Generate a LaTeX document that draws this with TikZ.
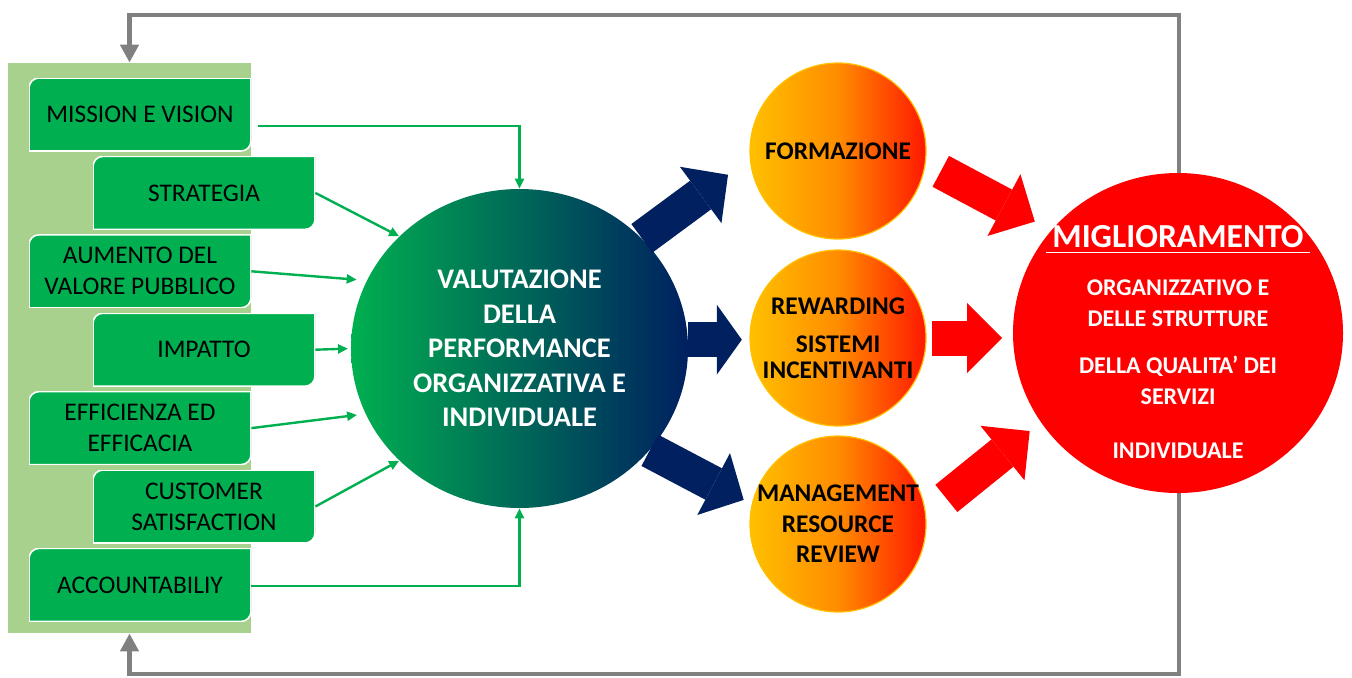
\documentclass[tikz,border=0pt]{standalone}
\usepackage{fontspec}
\setmainfont{Carlito}
\usetikzlibrary{arrows.meta,positioning,shapes.geometric,calc}
\definecolor{PanelGreen}{RGB}{169,209,142}
\definecolor{BoxGreen}{RGB}{0,176,80}
\definecolor{EvalNavy}{RGB}{0,32,96}
\definecolor{GoalRed}{RGB}{255,0,0}
\definecolor{OrangeA}{RGB}{255,192,0}
\definecolor{OrangeB}{RGB}{255,140,0}
\definecolor{OrangeC}{RGB}{255,24,0}
\definecolor{LoopGray}{RGB}{128,128,128}
\newcommand{\migline}[1]{\setbox0\hbox{#1}\rlap{\kern-3pt\rule[-3pt]{\dimexpr\wd0+6pt\relax}{0.8pt}}\box0}

\begin{document}
\begin{tikzpicture}[
  x=0.5pt, y=-0.5pt,
  panel/.style={fill=PanelGreen, minimum width=121.5pt, minimum height=285pt, inner sep=0pt},
  item/.style={
    minimum width=111pt, minimum height=36.5pt, inner sep=0pt,
    align=center, font=\fontsize{12.7}{15.5}\selectfont,
    path picture={
      \filldraw[fill=BoxGreen, draw=white, line width=0.8pt]
        (path picture bounding box.south west)
        -- ([yshift=-5pt]path picture bounding box.north west)
        arc[start angle=180, end angle=90, radius=5pt]
        -- (path picture bounding box.north east)
        -- ([yshift=5pt]path picture bounding box.south east)
        arc[start angle=0, end angle=-90, radius=5pt]
        -- cycle;
    }
  },
  evalnode/.style={
    ellipse, minimum width=168.5pt, minimum height=159.5pt, inner sep=0pt,
    left color=BoxGreen, right color=EvalNavy, text=white, align=center,
    font=\bfseries\fontsize{14.2}{17.3}\selectfont
  },
  lever/.style={
    circle, minimum size=88pt, inner sep=-3pt, draw=OrangeA, line width=0.6pt,
    left color=OrangeA, right color=OrangeC, middle color=OrangeB,
    align=center, font=\bfseries\fontsize{12.7}{12.8}\selectfont
  },
  goal/.style={ellipse, minimum width=165pt, minimum height=160pt, inner sep=0pt, fill=GoalRed},
  feed/.style={draw=LoopGray, line width=2.2pt,
    {Triangle[length=9pt,width=9pt]}-{Triangle[length=9pt,width=9pt]}},
  inflow/.style={draw=BoxGreen, line width=1.2pt, -{Triangle[length=5pt,width=4.5pt]}},
  bignavy/.style={draw=EvalNavy, line width=17.75pt,
    -{Triangle[length=17pt,width=35pt,line width=0pt]}},
  bigred/.style={draw=GoalRed, line width=17.5pt,
    -{Triangle[length=17.5pt,width=35pt,line width=0pt]}}
]
\useasboundingbox (0,0) rectangle (1352,677);

% left column
\node[panel] (panel) at (129.5,348) {};
\coordinate (fbtop) at (1179,15);
\coordinate (fbbot) at (1179,674);
\draw[feed] (panel.south) |- (fbbot) -- (fbtop) -| (panel.north);

\node[item] (mission) at (140,114.5) {MISSION E VISION};
\node[item, below=2.3pt of mission, xshift=32pt] (strat) {STRATEGIA};
\node[item, below=2.3pt of strat, xshift=-32pt] (aumento) {AUMENTO DEL\\VALORE PUBBLICO};
\node[item, below=2.3pt of aumento, xshift=32pt] (impatto) {IMPATTO};
\node[item, below=2.3pt of impatto, xshift=-32pt] (effic) {EFFICIENZA ED\\EFFICACIA};
\node[item, below=2.3pt of effic, xshift=32pt] (custom) {CUSTOMER\\SATISFACTION};
\node[item, below=2.3pt of custom, xshift=-32pt] (accnt) {ACCOUNTABILIY};

% circles
\node[evalnode] (valut) at (519.5,348.5)
  {VALUTAZIONE\\DELLA\\PERFORMANCE\\ORGANIZZATIVA E\\INDIVIDUALE};
\node[lever] (formaz) at (838,151) {FORMAZIONE};
\node[lever] (reward) at (838,338) {REWARDING\\[6.5pt]SISTEMI\\INCENTIVANTI};
\node[lever] (manag) at (838,524) {MANAGEMENT\\[2.5pt]RESOURCE\\[2.5pt]REVIEW};
\node[goal] (migl) at (1178,333) {};
\node[text=white, align=center, font=\bfseries\fontsize{12}{15.3}\selectfont] (migltext) at (1178,342)
  {\fontsize{16.8}{20}\selectfont\bfseries\migline{\bfseries MIGLIORAMENTO}\\[8.9pt]
   ORGANIZZATIVO E\\DELLE STRUTTURE\\[8.4pt]
   DELLA QUALITA’ DEI\\SERVIZI\\[11.7pt]INDIVIDUALE};

% inputs
\draw[inflow] ($(mission.east)+(7,11.5)$) -| (valut.north);
\draw[inflow] (strat.east) -- (valut.137);
\draw[inflow, shorten >=5pt] (aumento.east) -- (valut.156);
\draw[inflow, shorten >=1.3pt] (impatto.east) -- (valut.west);
\draw[inflow, shorten >=4.2pt] (effic.east) -- (valut.203);
\draw[inflow] (custom.east) -- (valut.223);
\draw[inflow] ($(accnt.east)+(0,1)$) -| (valut.south);

% outputs
\draw[bignavy, shorten >=13.5pt] (valut.42) -- (formaz.185);
\draw[bignavy, -{Triangle[length=12.5pt,width=35pt,line width=0pt]}, shorten >=3.8pt]
  (valut.3) -- (valut.3 -| reward.west);
\draw[bignavy, shorten >=4.5pt] (valut.-38) -- (manag.167);

\draw[bigred, shorten <=8.5pt, shorten >=9.2pt] (formaz.-8) -- (migl.141);
\draw[bigred, shorten <=2.5pt, shorten >=5.2pt] (reward.east) -- (reward.east -| migl.west);
\draw[bigred, shorten <=13pt, shorten >=7pt] (manag.6) -- (migl.213);
\end{tikzpicture}
\end{document}
